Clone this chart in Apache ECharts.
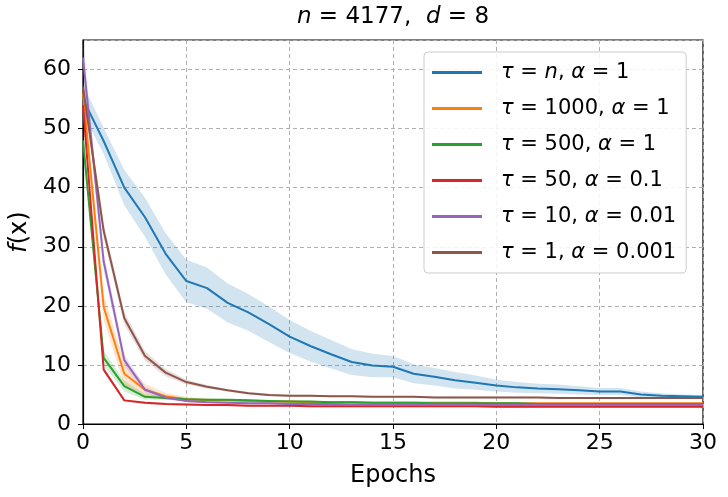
<!DOCTYPE html>
<html>
<head>
<meta charset="utf-8">
<script src="https://cdn.jsdelivr.net/npm/echarts@6/dist/echarts.min.js"></script>
<style>
  html, body { margin: 0; padding: 0; background: #fff; }
  #main { width: 728px; height: 497px; }
</style>
</head>
<body>
<div id="main"></div>
<script>
var epochs = [];
for (var e = 0; e <= 30; e++) epochs.push(e);

var labels = ['τ = n, α = 1', 'τ = 1000, α = 1', 'τ = 500, α = 1',
              'τ = 50, α = 0.1', 'τ = 10, α = 0.01', 'τ = 1, α = 0.001'];
var colors = ['#1f77b4', '#ff7f0e', '#2ca02c', '#d62728', '#9467bd', '#8c564b'];

// mean f(x) per epoch
var tauN = [55, 47.9, 40.0, 35.0, 28.8, 24.2, 23.0, 20.5, 18.9, 16.9, 14.8, 13.2, 11.8, 10.5, 9.9, 9.7,
            8.5, 8.0, 7.4, 7.0, 6.5, 6.2, 6.0, 5.9, 5.7, 5.5, 5.5, 5.0, 4.8, 4.7, 4.6];
var tau1000 = [56, 19.8, 8.5, 5.8, 4.7, 4.2, 4.0, 4.0, 3.9, 3.8, 3.8, 3.7, 3.7, 3.7, 3.6, 3.6,
               3.6, 3.6, 3.6, 3.6, 3.5, 3.5, 3.5, 3.5, 3.5, 3.5, 3.5, 3.5, 3.5, 3.5, 3.5];
var tau500 = [48, 11.2, 6.4, 4.6, 4.4, 4.2, 4.1, 4.1, 4.0, 3.9, 3.8, 3.8, 3.7, 3.7, 3.6, 3.6,
              3.6, 3.5, 3.5, 3.5, 3.5, 3.5, 3.4, 3.4, 3.4, 3.4, 3.4, 3.4, 3.4, 3.4, 3.4];
var tau50 = [54, 9.2, 4.0, 3.6, 3.4, 3.3, 3.2, 3.2, 3.1, 3.1, 3.1, 3.0, 3.0, 3.0, 3.0, 3.0,
             3.0, 3.0, 3.0, 3.0, 2.9, 2.9, 2.9, 2.9, 2.9, 2.9, 2.9, 2.9, 2.9, 2.9, 2.9];
var tau10 = [62, 27.5, 10.8, 5.8, 4.5, 3.9, 3.7, 3.6, 3.5, 3.5, 3.4, 3.4, 3.4, 3.3, 3.3, 3.3,
             3.3, 3.3, 3.3, 3.2, 3.2, 3.2, 3.2, 3.2, 3.2, 3.2, 3.2, 3.2, 3.2, 3.2, 3.2];
var tau1 = [57, 32.7, 17.9, 11.5, 8.7, 7.1, 6.3, 5.7, 5.2, 4.9, 4.8, 4.8, 4.7, 4.7, 4.6, 4.6,
            4.6, 4.5, 4.5, 4.5, 4.5, 4.5, 4.5, 4.4, 4.4, 4.4, 4.4, 4.4, 4.4, 4.4, 4.4];

// spread (half width of shaded band)
var sdN = [2.5, 2.2, 3.0, 3.3, 3.5, 3.6, 3.5, 3.3, 3.1, 3.0, 2.8, 2.6, 2.4, 2.2, 2.0, 1.8,
           1.6, 1.5, 1.4, 1.2, 1.0, 0.9, 0.8, 0.8, 0.7, 0.6, 0.6, 0.5, 0.4, 0.3, 0.3];
var sd1000 = [2.0, 2.2, 2.0, 1.0, 0.6, 0.4, 0.3, 0.2, 0.2, 0.2, 0.2, 0.2, 0.15, 0.15, 0.15, 0.15,
              0.15, 0.15, 0.15, 0.15, 0.15, 0.15, 0.15, 0.15, 0.15, 0.15, 0.15, 0.15, 0.15, 0.15, 0.15];
var sd500 = [1.5, 1.2, 0.9, 0.5, 0.3, 0.2, 0.2, 0.15, 0.15, 0.15, 0.15, 0.15, 0.1, 0.1, 0.1, 0.1,
             0.1, 0.1, 0.1, 0.1, 0.1, 0.1, 0.1, 0.1, 0.1, 0.1, 0.1, 0.1, 0.1, 0.1, 0.1];
var sd50 = [1.0, 0.4, 0.2, 0.2, 0.2, 0.2, 0.2, 0.2, 0.2, 0.2, 0.2, 0.2, 0.2, 0.2, 0.2, 0.2,
            0.2, 0.2, 0.2, 0.2, 0.2, 0.2, 0.2, 0.2, 0.2, 0.2, 0.2, 0.2, 0.2, 0.2, 0.2];
var sd10 = [3.0, 1.5, 1.0, 0.5, 0.3, 0.2, 0.2, 0.15, 0.15, 0.15, 0.15, 0.15, 0.1, 0.1, 0.1, 0.1,
            0.1, 0.1, 0.1, 0.1, 0.1, 0.1, 0.1, 0.1, 0.1, 0.1, 0.1, 0.1, 0.1, 0.1, 0.1];
var sd1 = [1.5, 1.2, 1.0, 0.8, 0.6, 0.4, 0.3, 0.2, 0.2, 0.2, 0.15, 0.15, 0.15, 0.15, 0.15, 0.15,
           0.15, 0.15, 0.15, 0.15, 0.15, 0.15, 0.15, 0.15, 0.15, 0.15, 0.15, 0.15, 0.15, 0.15, 0.15];

var means = [tauN, tau1000, tau500, tau50, tau10, tau1];
var spreads = [sdN, sd1000, sd500, sd50, sd10, sd1];

var FONT = 'DejaVu Sans';

// shaded band as one polygon, mapped through the axes with api.coord
function bandRenderer(m, sd, color) {
    return function (params, api) {
        if (params.dataIndex !== 0) return;
        var upper = [], lower = [];
        for (var i = 0; i < epochs.length; i++) {
            upper.push(api.coord([epochs[i], m[i] + sd[i]]));
            lower.push(api.coord([epochs[i], m[i] - sd[i]]));
        }
        return {
            type: 'polygon',
            shape: {points: upper.concat(lower.reverse())},
            style: {fill: color, opacity: 0.2},
            silent: true
        };
    };
}

var series = [];
means.forEach(function (m, k) {
    series.push({
        name: 'band' + k,
        type: 'custom',
        silent: true,
        clip: true,
        z: 1,
        renderItem: bandRenderer(m, spreads[k], colors[k]),
        data: epochs.map(function (x, i) { return [x, m[i]]; })
    });
});
means.forEach(function (m, k) {
    series.push({
        name: labels[k],
        type: 'line',
        symbol: 'none',
        z: 3,
        color: colors[k],
        lineStyle: {width: 2, color: colors[k]},
        data: epochs.map(function (x, i) { return [x, m[i]]; })
    });
});

var italic = {fontFamily: FONT, fontStyle: 'italic', fontSize: 21, color: '#000'};

var myChart = echarts.init(document.getElementById('main'));
option = {
    backgroundColor: '#fff',
    animation: false,
    title: {
        text: '{i|n} = 4177,  {i|d} = 8',
        left: 393,
        textAlign: 'center',
        top: 6,
        padding: 0,
        textStyle: {
            fontFamily: FONT,
            fontSize: 23,
            fontWeight: 'normal',
            color: '#000',
            rich: {i: {fontFamily: FONT, fontStyle: 'italic', fontSize: 23, color: '#000'}}
        }
    },
    grid: {
        left: 83, right: 25, top: 40, bottom: 73,
        show: true,
        borderColor: '#000',
        borderWidth: 1.2
    },
    legend: {
        data: labels,
        orient: 'vertical',
        left: 424,
        top: 52,
        width: 268,
        padding: [10, 10, 10, 8],
        itemGap: 15,
        itemWidth: 50,
        itemHeight: 3,
        icon: 'rect',
        backgroundColor: 'rgba(255,255,255,0.85)',
        borderColor: '#cccccc',
        borderWidth: 1,
        borderRadius: 4,
        formatter: function (name) {
            return name.replace(/(τ|α|\bn\b)/g, '{i|$1}');
        },
        textStyle: {
            fontFamily: FONT,
            fontSize: 21,
            color: '#000',
            padding: [0, 0, 0, 14],
            rich: {i: italic}
        }
    },
    xAxis: {
        type: 'value',
        min: 0,
        max: 30,
        interval: 5,
        name: 'Epochs',
        nameLocation: 'middle',
        nameGap: 40,
        nameTextStyle: {fontFamily: FONT, fontSize: 24, color: '#000'},
        axisLine: {show: true, lineStyle: {color: '#000', width: 1.2}},
        axisTick: {show: true, length: 5, lineStyle: {color: '#000'}},
        axisLabel: {fontFamily: FONT, fontSize: 22, color: '#000', margin: 8},
        splitLine: {show: true, lineStyle: {color: '#b0b0b0', type: [4, 3], width: 1}}
    },
    yAxis: {
        type: 'value',
        min: 0,
        max: 65,
        interval: 10,
        name: '{i|f}(x)',
        nameLocation: 'middle',
        nameRotate: 90,
        nameGap: 36,
        nameTextStyle: {
            fontFamily: FONT, fontSize: 24, color: '#000',
            rich: {i: {fontFamily: FONT, fontStyle: 'italic', fontSize: 24, color: '#000'}}
        },
        axisLine: {show: true, lineStyle: {color: '#000', width: 1.2}},
        axisTick: {show: true, length: 5, lineStyle: {color: '#000'}},
        axisLabel: {fontFamily: FONT, fontSize: 22, color: '#000', margin: 12, showMaxLabel: false},
        splitLine: {show: true, lineStyle: {color: '#b0b0b0', type: [4, 3], width: 1}}
    },
    series: series
};
myChart.setOption(option);
</script>
</body>
</html>
